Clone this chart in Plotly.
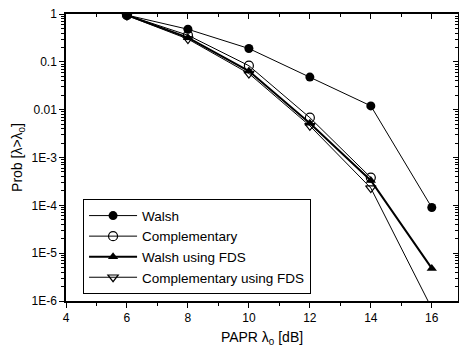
import plotly.graph_objects as go

papr = [6, 8, 10, 12, 14, 16]
walsh = [0.95, 0.48, 0.19, 0.048, 0.012, 9e-5]
comp_x = [6, 8, 10, 12, 14]
complementary = [0.95, 0.36, 0.083, 0.0068, 3.8e-4]
walsh_fds = [0.95, 0.32, 0.064, 0.0052, 3.3e-4, 4.8e-6]
comp_fds = [0.93, 0.30, 0.057, 0.0046, 2.3e-4, 7e-7]

ytick_vals = [1, 0.1, 0.01, 1e-3, 1e-4, 1e-5, 1e-6]
ytick_text = ["1", "0.1", "0.01", "1E-3", "1E-4", "1E-5", "1E-6"]
xtick_vals = [4, 6, 8, 10, 12, 14, 16]

FONT = "Liberation Sans, Arial, sans-serif"

fig = go.Figure()
fig.add_trace(go.Scatter(x=papr, y=walsh, name="Walsh", mode="lines+markers",
                         line=dict(color="black", width=1),
                         marker=dict(symbol="circle", size=9, color="black")))
fig.add_trace(go.Scatter(x=comp_x, y=complementary, name="Complementary", mode="lines+markers",
                         line=dict(color="black", width=1),
                         marker=dict(symbol="circle-open", size=9, color="black", line=dict(width=1.2))))
fig.add_trace(go.Scatter(x=papr, y=walsh_fds, name="Walsh using FDS", mode="lines+markers",
                         line=dict(color="black", width=2),
                         marker=dict(symbol="triangle-up", size=9, color="black")))
fig.add_trace(go.Scatter(x=papr, y=comp_fds, name="Complementary using FDS", mode="lines+markers",
                         line=dict(color="black", width=1),
                         marker=dict(symbol="triangle-down-open", size=9, color="black", line=dict(width=1.2))))
# empty trace to hold mirrored axes
fig.add_trace(go.Scatter(x=[None], y=[None], xaxis="x2", yaxis="y2", showlegend=False, hoverinfo="skip"))

xr = [4, 16.86]
yr = [-6, 0]
common_x = dict(range=xr, tickvals=xtick_vals, showgrid=False, zeroline=False,
                linecolor="black", linewidth=1.5, tickcolor="black", ticklen=5, tickwidth=1.2,
                minor=dict(dtick=1, tick0=4, ticks="", ticklen=3, tickcolor="black", showgrid=False))
common_y = dict(type="log", range=yr, tickvals=ytick_vals, showgrid=False, zeroline=False,
                linecolor="black", linewidth=1.5, tickcolor="black", ticklen=5, tickwidth=1.2,
                minor=dict(dtick="D1", ticklen=3, tickcolor="black", showgrid=False))

xa = dict(common_x)
xa.update(ticks="outside", title=dict(text="PAPR λ<sub>0</sub> [dB]", font=dict(size=14), standoff=8))
xa["minor"] = dict(common_x["minor"], ticks="outside")
ya = dict(common_y)
ya.update(ticks="outside", ticktext=ytick_text, title=dict(text="Prob [λ>λ<sub>0</sub>]", font=dict(size=14), standoff=6))
ya["minor"] = dict(common_y["minor"], ticks="outside")
xa2 = dict(common_x)
xa2.update(ticks="inside", overlaying="x", side="top", showticklabels=False)
xa2["minor"] = dict(common_x["minor"], ticks="inside")
ya2 = dict(common_y)
ya2.update(ticks="inside", overlaying="y", side="right", showticklabels=False)
ya2["minor"] = dict(common_y["minor"], ticks="inside")

fig.update_layout(
    width=459, height=351,
    margin=dict(l=66, r=1, t=14, b=50),
    paper_bgcolor="white", plot_bgcolor="white",
    font=dict(family=FONT, size=12, color="black"),
    xaxis=xa, yaxis=ya, xaxis2=xa2, yaxis2=ya2,
    showlegend=True,
    legend=dict(x=0.043, y=0.355, xanchor="left", yanchor="top",
                bordercolor="black", borderwidth=1.2, bgcolor="white",
                font=dict(size=13.5), tracegroupgap=0, itemwidth=48),
)

fig.write_html("out.html")
